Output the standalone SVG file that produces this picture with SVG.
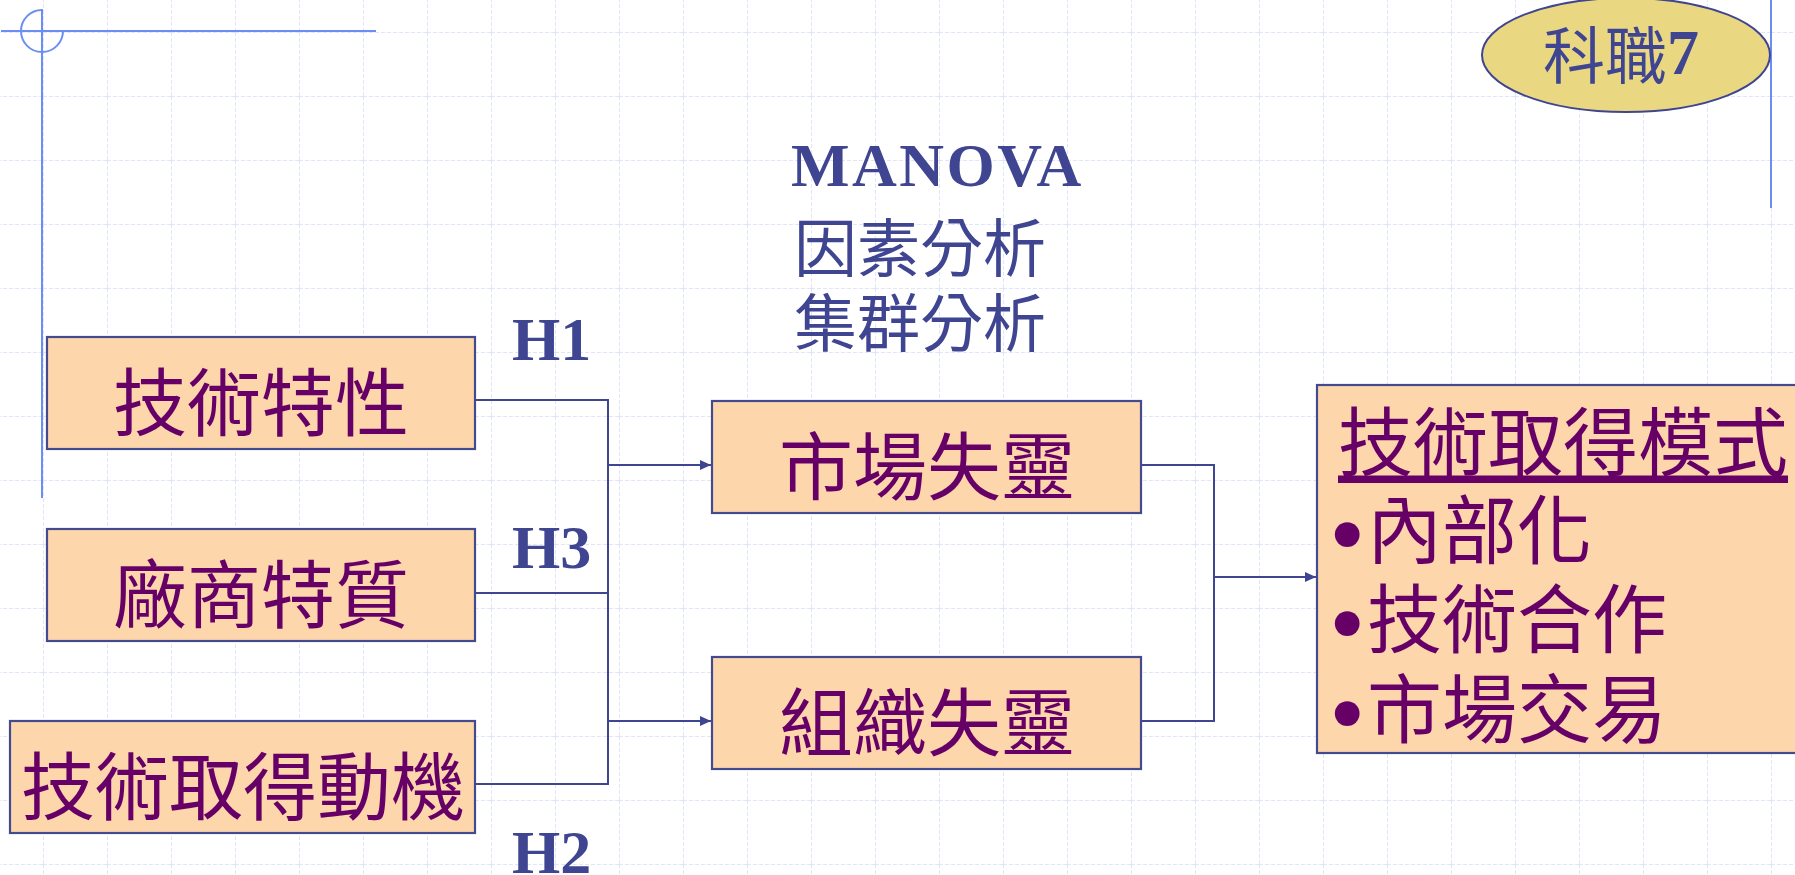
<svg xmlns="http://www.w3.org/2000/svg" width="1795" height="875" viewBox="0 0 1795 875">
<style>
.box{fill:#FDD6AC;stroke:#434A8E;stroke-width:2.2}
.cjk{font-family:"Noto Sans CJK TC","Noto Sans CJK SC",sans-serif}
.lbl{font-family:"Noto Sans CJK TC","Noto Sans CJK SC",sans-serif;font-size:74px;fill:#660066;text-anchor:middle;dominant-baseline:central}
.h{font-family:"Liberation Serif",serif;font-weight:bold;font-size:62px;fill:#3F4590}
.bul{font-family:"Liberation Serif",serif;font-size:104px}
.conn{fill:none;stroke:#3F4590;stroke-width:2}
.deco{fill:none;stroke:#6C8EF2;stroke-width:2}
.grid{stroke:#D6DEF7;stroke-width:1.5;stroke-dasharray:4 2}
</style>
<defs>
<marker id="arr" markerUnits="userSpaceOnUse" markerWidth="12" markerHeight="10" refX="11" refY="5" orient="auto">
<path d="M0,0 L11,5 L0,10 z" fill="#3F4590"/>
</marker>
<pattern id="gp" patternUnits="userSpaceOnUse" x="43" y="32" width="64" height="64">
<line class="grid" x1="0" y1="0" x2="64" y2="0"/>
<line class="grid" x1="0" y1="0" x2="0" y2="64"/>
</pattern>
</defs>
<rect width="1795" height="875" fill="#FFFFFF"/>
<rect width="1795" height="875" fill="url(#gp)"/>
<g id="decoration">
<line class="deco" x1="1" y1="31" x2="376" y2="31"/>
<line class="deco" x1="42" y1="9" x2="42" y2="498"/>
<path class="deco" d="M42,10 A21,21 0 1 0 63,31"/>
<line class="deco" x1="1771" y1="0" x2="1771" y2="208"/>
</g>
<g id="connectors">
<path class="conn" d="M475,400 H608 V784 H475"/>
<path class="conn" d="M475,593 H608"/>
<path class="conn" d="M608,465 H711" marker-end="url(#arr)"/>
<path class="conn" d="M608,721 H711" marker-end="url(#arr)"/>
<path class="conn" d="M1141,465 H1214 V721 H1141"/>
<path class="conn" d="M1214,577 H1316" marker-end="url(#arr)"/>
</g>
<g id="n-tech-char">
<rect class="box" x="47" y="337" width="428" height="112"/>
<text class="lbl" x="261" y="397">技術特性</text>
</g>
<g id="n-firm-char">
<rect class="box" x="47" y="529" width="428" height="112"/>
<text class="lbl" x="261" y="589">廠商特質</text>
</g>
<g id="n-motive">
<rect class="box" x="10" y="721" width="465" height="112"/>
<text class="lbl" x="243" y="781">技術取得動機</text>
</g>
<g id="n-market">
<rect class="box" x="712" y="401" width="429" height="112"/>
<text class="lbl" x="927" y="461">市場失靈</text>
</g>
<g id="n-org">
<rect class="box" x="712" y="657" width="429" height="112"/>
<text class="lbl" x="927" y="717">組織失靈</text>
</g>
<g id="n-mode">
<rect class="box" x="1317" y="385" width="500" height="368"/>
<text class="cjk" x="1338" y="437" font-size="75" fill="#660066" dominant-baseline="central" text-decoration="underline">技術取得模式</text>
<text font-size="75" fill="#660066"><tspan class="bul" x="1329" y="569">•</tspan><tspan class="cjk" x="1367" y="558">內部化</tspan></text>
<text font-size="75" fill="#660066"><tspan class="bul" x="1329" y="658">•</tspan><tspan class="cjk" x="1367" y="647">技術合作</tspan></text>
<text font-size="75" fill="#660066"><tspan class="bul" x="1329" y="748">•</tspan><tspan class="cjk" x="1367" y="737">市場交易</tspan></text>
</g>
<g id="n-badge">
<ellipse cx="1626" cy="55" rx="144" ry="57" fill="#EAD782" stroke="#3F4590" stroke-width="2"/>
<text y="79" fill="#3F4590"><tspan class="cjk" x="1543" font-size="62">科職</tspan><tspan font-family="Liberation Serif,serif" font-weight="bold" font-size="64" dy="-5">7</tspan></text>
</g>
<g id="methods">
<text class="h" x="791" y="186" font-size="65" letter-spacing="2.5">MANOVA</text>
<text class="cjk" x="794" y="243" font-size="63" fill="#3F4590" dominant-baseline="central">因素分析</text>
<text class="cjk" x="794" y="318" font-size="63" fill="#3F4590" dominant-baseline="central">集群分析</text>
</g>
<g id="hyp">
<text class="h" x="512" y="360">H1</text>
<text class="h" x="512" y="568">H3</text>
<text class="h" x="512" y="873">H2</text>
</g>
</svg>
